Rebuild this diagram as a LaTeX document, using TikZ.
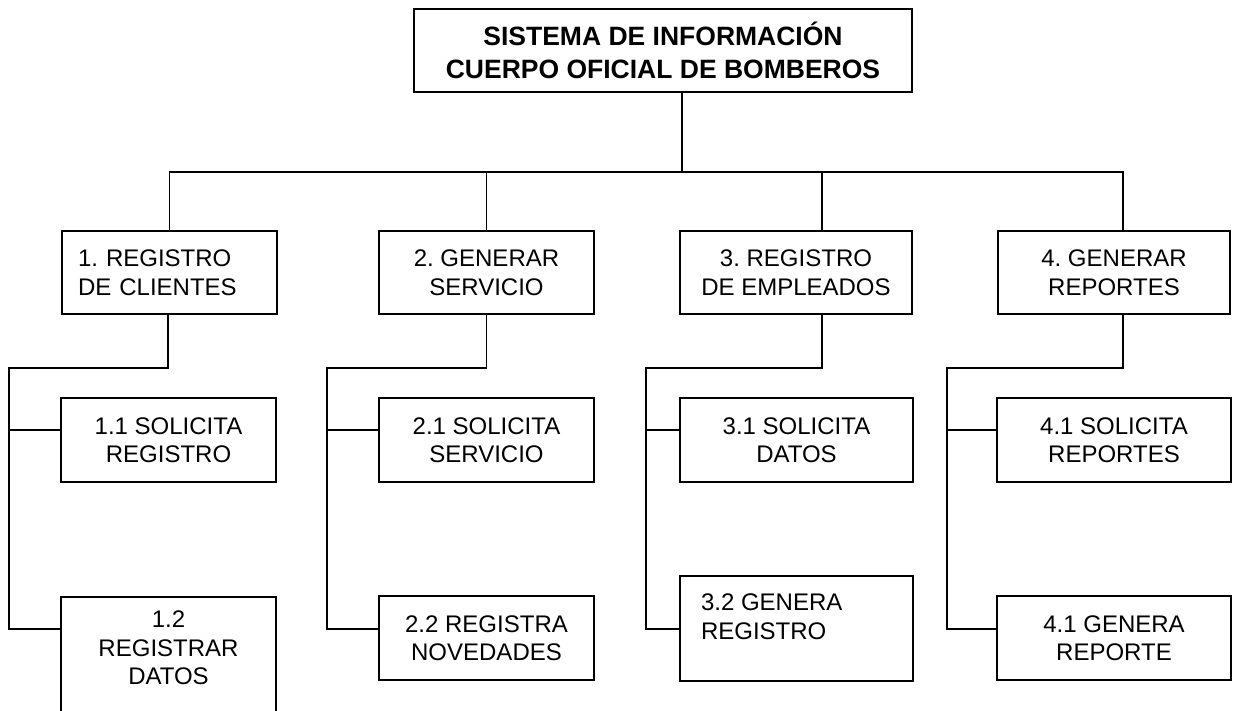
\documentclass[tikz,border=0pt]{standalone}
\usepackage{fontspec}
\setmainfont{Liberation Sans}
\frenchspacing
\begin{document}
\begin{tikzpicture}[x=1pt,y=-1pt]
    \tikzstyle{caja} = [draw,line width=2pt,minimum width=215pt,minimum height=83pt,align=center,inner sep=0pt,font=\fontsize{24}{28.5}\selectfont]
    \tikzstyle{titulo} = [caja,minimum width=498pt,font=\bfseries\fontsize{26.5}{33}\selectfont]
    \tikzstyle{linea} = [line width=1.7pt]
        \useasboundingbox (0,0) rectangle (1233,711);
        \clip (0,0) rectangle (1233,711);
        \node[titulo] (top) at (663,50.5) {SISTEMA DE INFORMACIÓN\\CUERPO OFICIAL DE BOMBEROS};
        % primer nivel
        \node[caja,text width=183pt,align=left,inner xsep=16pt] (b1) at (169.5,272.5) {1. REGISTRO\\DE CLIENTES};
        \node[caja] (b2) at (486.5,272.5) {2. GENERAR\\SERVICIO};
        \node[caja,minimum width=232pt] (b3) at (796,272.5) {3. REGISTRO\\DE EMPLEADOS};
        \node[caja,minimum width=232pt] (b4) at (1114,272.5) {4. GENERAR\\REPORTES};
        % segundo nivel
        \node[caja,minimum height=84pt] (b11) at (168.5,440) {1.1 SOLICITA\\REGISTRO};
        \node[caja,anchor=north,inner xsep=7.5pt,inner ysep=14pt] (b12) at (168.5,596) {\parbox[c][140pt][t]{200pt}{\centering 1.2\\REGISTRAR\\DATOS}};
        \node[caja,minimum height=84pt] (b21) at (486.5,440) {2.1 SOLICITA\\SERVICIO};
        \node[caja,minimum height=84pt] (b22) at (486.5,638) {2.2 REGISTRA\\NOVEDADES};
        \node[caja,minimum width=233pt,minimum height=84pt] (b31) at (796.5,440) {3.1 SOLICITA\\DATOS};
        \node[caja,anchor=north,inner xsep=21pt,inner ysep=18pt] (b32) at (796.5,575) {\parbox[c][69pt][t]{191pt}{\raggedright 3.2 GENERA\\REGISTRO}};
        \node[caja,minimum width=234pt,minimum height=84pt] (b41) at (1114,440) {4.1 SOLICITA\\REPORTES};
        \node[caja,minimum width=234pt,minimum height=84pt] (b42) at (1114,638) {4.1 GENERA\\REPORTE};
        % conectores
        \coordinate (hub) at (682,172);
        \coordinate (d3) at (822,172);
        \coordinate (d4) at (1123,172);
        \draw[linea] (hub |- top.south) -- (hub);
        \draw[linea] (b1.north) -- (b1.north |- hub) -- (d4) -- (d4 |- b4.north);
        \draw[linea] (b2.north) -- (b2.north |- hub);
        \draw[linea] (d3) -- (d3 |- b3.north);
        \coordinate (c1) at (168,368);
        \coordinate (t1) at (9,368);
        \coordinate (u1) at (9,430);
        \coordinate (v1) at (9,629);
        \draw[linea] (b1.south -| c1) -- (c1) -- (t1) -- (v1) -- (v1 -| b12.west);
        \draw[linea] (u1) -- (u1 -| b11.west);
        \coordinate (c2) at (486.5,368);
        \coordinate (t2) at (327,368);
        \coordinate (u2) at (327,430);
        \coordinate (v2) at (327,629);
        \draw[linea] (b2.south -| c2) -- (c2) -- (t2) -- (v2) -- (v2 -| b22.west);
        \draw[linea] (u2) -- (u2 -| b21.west);
        \coordinate (c3) at (822,368);
        \coordinate (t3) at (646,368);
        \coordinate (u3) at (646,430);
        \coordinate (v3) at (646,629);
        \draw[linea] (b3.south -| c3) -- (c3) -- (t3) -- (v3) -- (v3 -| b32.west);
        \draw[linea] (u3) -- (u3 -| b31.west);
        \coordinate (c4) at (1123,368);
        \coordinate (t4) at (947,368);
        \coordinate (u4) at (947,430);
        \coordinate (v4) at (947,629);
        \draw[linea] (b4.south -| c4) -- (c4) -- (t4) -- (v4) -- (v4 -| b42.west);
        \draw[linea] (u4) -- (u4 -| b41.west);
\end{tikzpicture}
\end{document}
